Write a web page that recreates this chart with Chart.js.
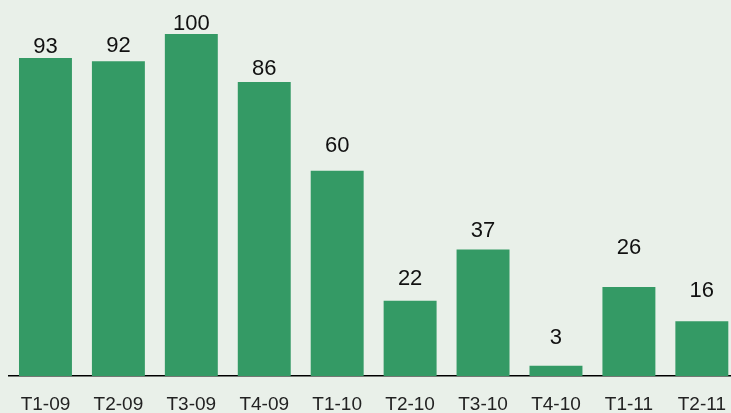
<!DOCTYPE html>
<html>
<head>
<meta charset="utf-8">
<script src="https://cdn.jsdelivr.net/npm/chart.js@4"></script>
<style>
  html, body { margin: 0; padding: 0; background: #e9f0e9; overflow: hidden; }
  #wrap { width: 743px; height: 413px; position: relative; }
</style>
</head>
<body>
<div id="wrap"><canvas id="chart"></canvas></div>
<script>
// 분기별 값
const categories = ['T1-09', 'T2-09', 'T3-09', 'T4-09', 'T1-10', 'T2-10', 'T3-10', 'T4-10', 'T1-11', 'T2-11'];
const values = [93, 92, 100, 86, 60, 22, 37, 3, 26, 16];

// 막대 위에 값 표시 (원본처럼 간격이 조금씩 다름)
const valueLabels = {
    id: 'valueLabels',
    afterDatasetsDraw(chart, args, opts) {
        const ctx = chart.ctx;
        const meta = chart.getDatasetMeta(0);
        const lift = opts.lift || [];
        ctx.save();
        ctx.font = '22px "Liberation Sans", Arial, sans-serif';
        ctx.fillStyle = '#111';
        ctx.textAlign = 'center';
        ctx.textBaseline = 'alphabetic';
        meta.data.forEach((bar, i) => {
            ctx.fillText(String(values[i]), bar.x, bar.y - (lift[i] || 5));
        });
        ctx.restore();
    }
};

new Chart(document.getElementById('chart'), {
    type: 'bar',
    data: {
        labels: categories,
        datasets: [{
            data: values,
            backgroundColor: '#349a65',
            borderWidth: 0,
            barPercentage: 0.726,
            categoryPercentage: 1
        }]
    },
    options: {
        responsive: true,
        maintainAspectRatio: false,
        animation: false,
        layout: { padding: { top: 34, left: 9, right: 1, bottom: 0 } },
        plugins: {
            legend: { display: false },
            tooltip: { enabled: false },
            valueLabels: { lift: [5, 9, 4, 7, 19, 16, 12, 22, 33, 24] }
        },
        scales: {
            x: {
                grid: { display: false, drawTicks: false },
                border: { display: true, color: '#000', width: 1.5 },
                ticks: {
                    color: '#222',
                    padding: 17,
                    maxRotation: 0,
                    font: { size: 19, family: '"Liberation Sans", Arial, sans-serif' }
                },
                afterFit(scale) {
                    scale.height = 37;
                }
            },
            y: {
                display: false,
                min: 0,
                max: 100
            }
        }
    },
    plugins: [valueLabels]
});
</script>
</body>
</html>
